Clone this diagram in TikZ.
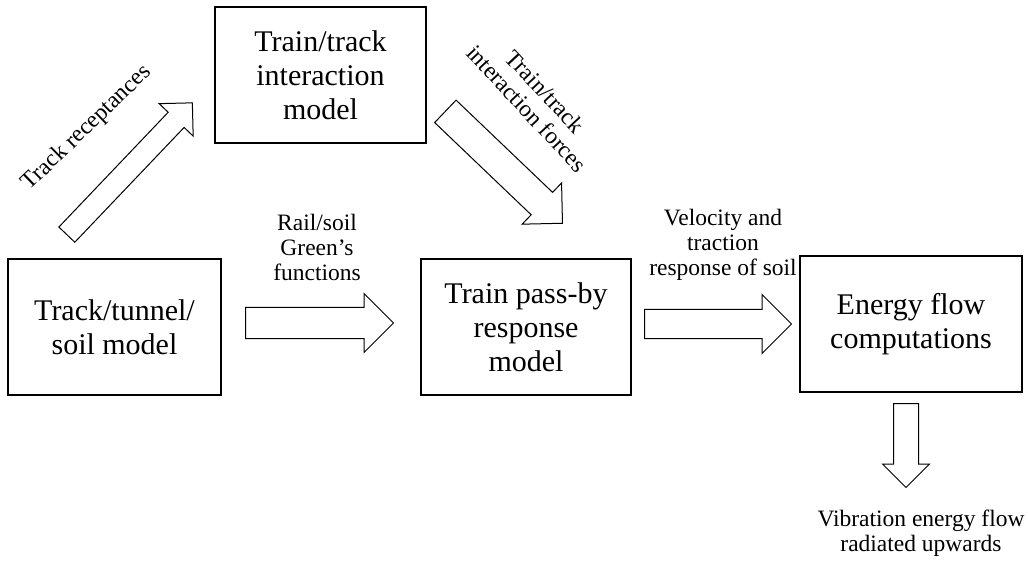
\documentclass[tikz,border=0pt]{standalone}
\usepackage{fontspec}
\setmainfont{Liberation Serif}
\usetikzlibrary{positioning,shapes.arrows}
\tikzset{
  blok/.style={draw,line width=0.6pt,minimum width=#1,minimum height=68pt,inner sep=0pt,align=center,font=\fontsize{15}{17}\selectfont},
  sipka/.style n args={3}{single arrow,draw,line width=0.5pt,fill=white,minimum height=#1,inner xsep=0pt,inner ysep=#2,single arrow head extend=#3,single arrow tip angle=90,anchor=tail},
  popis/.style={align=center,inner sep=0pt},
}

\begin{document}
\begin{tikzpicture}[x=0.5pt,y=-0.5pt,font=\fontsize{11.75}{12.5}\selectfont]
  \useasboundingbox (0,0) rectangle (1028,561);
  % blocks of the model chain
  \node[blok=106.5pt] (soil) at (114.5,327) {Track/tunnel/\\soil model};
  \node[blok=105.5pt] (inter) at (320.5,75) {Train/track\\interaction\\model};
  \node[blok=105pt] (passby) at (526,327) {Train pass-by\\response\\model};
  \node[blok=111pt] (energy) at (911,324) {Energy flow\\computations};
  % block arrows (length, half shaft, head extend)
  \node[sipka={91pt}{5.25pt}{6.25pt},rotate=46.4] (recept) at (66.5,235) {};
  \node[sipka={81pt}{7.5pt}{6.5pt},rotate=-43.7] (forces) at (445,111) {};
  \node[sipka={74pt}{7.5pt}{7pt}] (green) at (245,323) {};
  \node[sipka={73.5pt}{7pt}{7.5pt}] (veloc) at (644,324) {};
  \node[sipka={42pt}{6pt}{5.5pt},rotate=-90] (radiat) at (906,403) {};
  % labels
  \node[popis,rotate=44] (lrecept) at (87,128) {Track receptances};
  \node[popis,rotate=-47] (lforces) at (536,100) {Train/track\\interaction forces};
  \node[popis] (lgreen) at (317,247) {Rail/soil\\Green's\\functions};
  \node[popis] (lveloc) at (723,245) {Velocity and\\traction\\response of soil};
  \node[popis] (lradiat) at (921,533) {Vibration energy flow\\radiated upwards};
\end{tikzpicture}
\end{document}
